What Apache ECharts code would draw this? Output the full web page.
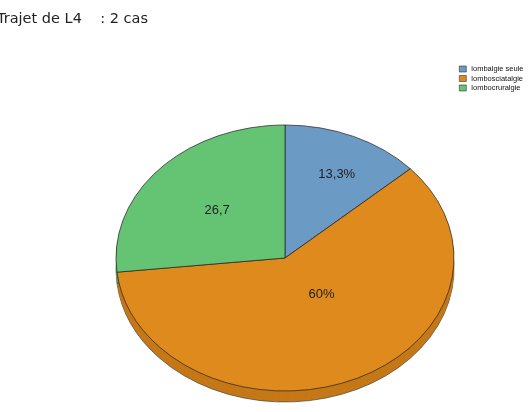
<!DOCTYPE html>
<html>
<head>
<meta charset="utf-8">
<script src="https://cdn.jsdelivr.net/npm/echarts@6/dist/echarts.min.js"></script>
<style>
html, body { margin: 0; padding: 0; background: #fff; }
#main { width: 530px; height: 412px; }
</style>
</head>
<body>
<div id="main"></div>
<script>
// donnees
var categories = ["lombalgie seule", "lombosciatalgie", "lombocruralgie"];
var values = [13.3, 60, 26.7];
var labelTexts = ["13,3%", "60%", "26,7"];

// styles
var colors = ["#6b9ac4", "#df8a1d", "#65c474"];
var sideColors = ["#587fa3", "#c57816", "#52a35e"];
var labelPlace = [[0.70, 2], [0.35, -14], [0.54, 0]]; // rayon relatif, decalage d'angle

var cx = 285, cy = 258, rx = 169, ry = 133, depth = 11;
var s = ry / rx;
var total = 0;
values.forEach(function (v) { total += v; });

function sliceAngles(i) {
	var before = 0;
	for (var k = 0; k < i; k++) before += values[k];
	var a0 = before / total * Math.PI * 2 - Math.PI / 2;
	var a1 = (before + values[i]) / total * Math.PI * 2 - Math.PI / 2;
	return [a0, a1];
}

function makeRender(i) {
	return function (params, api) {
		var ang = sliceAngles(i);
		var faces = [];
		// epaisseur du camembert
		for (var d = depth; d >= 1; d--) {
			faces.push({
				type: 'sector',
				z2: 1,
				shape: { cx: cx, cy: cy + d / s, r: rx, r0: 0, startAngle: ang[0], endAngle: ang[1], clockwise: true },
				style: { fill: sideColors[i], stroke: d == depth ? '#444' : null, lineWidth: 0.8 }
			});
		}
		// face du dessus
		faces.push({
			type: 'sector',
			z2: 5,
			shape: { cx: cx, cy: cy, r: rx, r0: 0, startAngle: ang[0], endAngle: ang[1], clockwise: true },
			style: { fill: api.visual('color'), stroke: '#222', lineWidth: 0.8 }
		});
		var mid = (ang[0] + ang[1]) / 2 + labelPlace[i][1] * Math.PI / 180;
		var r = rx * labelPlace[i][0];
		return {
			type: 'group',
			children: [{
				type: 'group',
				originX: cx,
				originY: cy,
				scaleY: s,
				children: faces
			}, {
				type: 'text',
				z2: 10,
				x: cx + r * Math.cos(mid),
				y: cy + r * Math.sin(mid) * s,
				style: {
					text: labelTexts[i],
					align: 'center',
					verticalAlign: 'middle',
					font: '13px "Liberation Sans", Arial, sans-serif',
					fill: '#222'
				}
			}]
		};
	};
}

var chart = echarts.init(document.getElementById('main'));

var series = categories.map(function (name, i) {
	return {
		type: 'custom',
		name: name,
		coordinateSystem: 'none',
		itemStyle: { color: colors[i] },
		data: [values[i]],
		renderItem: makeRender(i)
	};
});

chart.setOption({
	animation: false,
	title: {
		text: "Trajet de L4    : 2 cas",
		left: -3,
		top: 12,
		padding: 0,
		textStyle: { fontFamily: 'DejaVu Sans', fontSize: 14.5, fontWeight: 'normal', color: '#222' }
	},
	legend: {
		orient: 'vertical',
		left: 459,
		top: 65,
		padding: 0,
		itemWidth: 7,
		itemHeight: 6,
		itemGap: 1.5,
		icon: 'rect',
		itemStyle: { borderColor: '#333', borderWidth: 0.6 },
		textStyle: { fontFamily: 'Liberation Sans', fontSize: 7.5, color: '#111' },
		data: categories
	},
	series: series
});
</script>
</body>
</html>
